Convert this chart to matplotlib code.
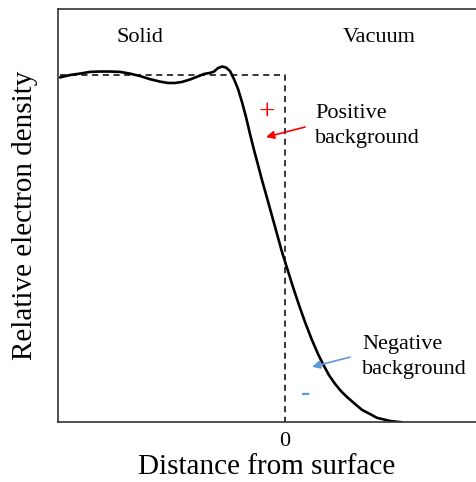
import matplotlib.pyplot as plt
import numpy as np

plt.rcParams['font.family'] = ['Liberation Serif', 'DejaVu Serif']

# electron density profile (x: distance from surface, y: relative density)
dist = [-2.25, -2.15, -2.05, -1.95, -1.85, -1.75, -1.65, -1.55, -1.45, -1.35,
        -1.25, -1.17, -1.10, -1.03, -0.95, -0.87, -0.81, -0.75, -0.71, -0.67,
        -0.63, -0.59, -0.55, -0.51, -0.47, -0.43, -0.39, -0.35, -0.31, -0.27,
        -0.23, -0.18, -0.13, -0.08, -0.03, 0.02, 0.08, 0.14, 0.20, 0.27,
        0.33, 0.38, 0.44, 0.50, 0.56, 0.62, 0.70, 0.77, 0.85, 0.92,
        1.05, 1.17]
density = [0.993, 1.000, 1.004, 1.009, 1.010, 1.010, 1.009, 1.004, 0.997, 0.988,
           0.981, 0.977, 0.977, 0.980, 0.987, 0.996, 1.003, 1.006, 1.010, 1.020,
           1.0245, 1.0216, 1.0115, 0.988, 0.960, 0.922, 0.879, 0.830, 0.784, 0.741,
           0.697, 0.646, 0.594, 0.542, 0.490, 0.444, 0.389, 0.337, 0.288, 0.236,
           0.196, 0.167, 0.135, 0.110, 0.089, 0.072, 0.052, 0.035, 0.023, 0.012,
           0.003, -0.001]

# jellium step (positive background)
step_x = [-2.25, 0.0, 0.0]
step_y = [1.0, 1.0, 0.0]

x_ticks = [0]
x_ticklabels = ['0']

fig = plt.figure(figsize=(4.76, 4.82), dpi=100)
ax = fig.add_axes([58/476, 60/482, 418/476, 413/482])

ax.plot(step_x, step_y, color='black', lw=1.1, ls=(0, (4, 3)))
ax.plot(dist, density, color='black', lw=1.9, solid_capstyle='round',
        solid_joinstyle='round')

ax.set_xlim(-2.27, 1.91)
ax.set_ylim(0, 413/347)

ax.set_xticks(x_ticks)
ax.set_xticklabels(x_ticklabels, fontsize=16)
ax.set_yticks([])
ax.tick_params(axis='x', length=0, pad=7)

for side in ['top', 'left', 'bottom']:
    ax.spines[side].set_linewidth(1.2)
    ax.spines[side].set_color('#333333')
ax.spines['right'].set_visible(False)

ax.set_xlabel('Distance from surface', fontsize=21, va='center')
ax.xaxis.set_label_coords(0.5, -0.109)
ax.set_ylabel('Relative electron density', fontsize=21, va='center')
ax.yaxis.set_label_coords(-0.079, 0.5)

ax.text(-1.45, 1.107, 'Solid', fontsize=16, ha='center', va='center')
ax.text(0.94, 1.107, 'Vacuum', fontsize=16, ha='center', va='center')

ax.text(0.30, 0.853, 'Positive\nbackground', fontsize=16, ha='left', va='center',
        linespacing=1.45)
ax.text(-0.18, 0.893, '+', fontsize=21, color='red', ha='center', va='center')
ax.annotate('', xy=(-0.19, 0.821), xytext=(0.20, 0.850),
            arrowprops=dict(arrowstyle='-|>', color='red', lw=1.2,
                            mutation_scale=12, shrinkA=0, shrinkB=0))

ax.text(0.77, 0.187, 'Negative\nbackground', fontsize=16, ha='left', va='center',
        linespacing=1.45)
ax.text(0.21, 0.081, '-', fontsize=20, color='#5B9BD5', ha='center', va='center',
        fontweight='bold')
ax.annotate('', xy=(0.27, 0.159), xytext=(0.65, 0.187),
            arrowprops=dict(arrowstyle='-|>', color='#5B9BD5', lw=1.2,
                            mutation_scale=12, shrinkA=0, shrinkB=0))

fig.savefig('out.png', dpi=100)
